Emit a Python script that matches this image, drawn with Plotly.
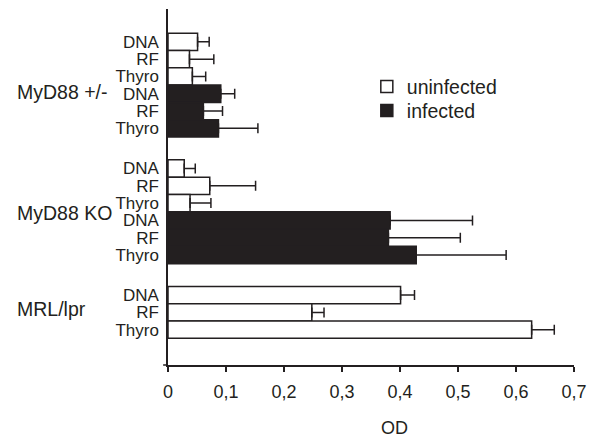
import plotly.graph_objects as go

# ---- data ----
groups = ["MyD88 +/-", "MyD88 KO", "MRL/lpr"]
antigens = ["DNA", "RF", "Thyro"]
tick_vals = [0, 0.1, 0.2, 0.3, 0.4, 0.5, 0.6, 0.7]
tick_text = ["0", "0,1", "0,2", "0,3", "0,4", "0,5", "0,6", "0,7"]

het_uninf = [0.051, 0.037, 0.042]
het_uninf_err = [0.020, 0.042, 0.023]
het_inf = [0.091, 0.061, 0.087]
het_inf_err = [0.024, 0.033, 0.068]
ko_uninf = [0.028, 0.072, 0.038]
ko_uninf_err = [0.019, 0.079, 0.036]
ko_inf = [0.383, 0.380, 0.428]
ko_inf_err = [0.142, 0.124, 0.155]
mrl_uninf = [0.401, 0.248, 0.627]
mrl_uninf_err = [0.024, 0.021, 0.039]

# ---- layout of rows (bar slots of height 1) ----
group_starts = [1.4, 8.72, 16.04]
label_offsets = [3.37, 3.09, 1.28]
y_max = 20.58

def rows(start, offset):
    return [start + offset + i + 0.5 for i in range(3)]

uninf_y = rows(group_starts[0], 0) + rows(group_starts[1], 0) + rows(group_starts[2], 0)
uninf_x = het_uninf + ko_uninf + mrl_uninf
uninf_e = het_uninf_err + ko_uninf_err + mrl_uninf_err
inf_y = rows(group_starts[0], 3) + rows(group_starts[1], 3)
inf_x = het_inf + ko_inf
inf_e = het_inf_err + ko_inf_err

ink = "#231f20"
font_family = "Liberation Sans, Arial, Helvetica, sans-serif"

def errs(e):
    return dict(type="data", array=e, arrayminus=[0] * len(e), symmetric=False,
                color=ink, thickness=1.5, width=5)

fig = go.Figure()
fig.add_trace(go.Bar(name="uninfected", orientation="h", x=uninf_x, y=uninf_y, width=1,
                     marker=dict(color="white", line=dict(color=ink, width=1.5)),
                     error_x=errs(uninf_e), legend="legend"))
fig.add_trace(go.Bar(name="infected", orientation="h", x=inf_x, y=inf_y, width=1,
                     marker=dict(color=ink, line=dict(color=ink, width=1.5)),
                     error_x=errs(inf_e), legend="legend2"))

# row labels
ytick_vals = []
ytick_text = []
for gi, s in enumerate(group_starts):
    n = 6 if gi < 2 else 3
    for i in range(n):
        ytick_vals.append(s + i + 0.5)
        ytick_text.append(antigens[i % 3])

annotations = []
for g, s, o in zip(groups, group_starts, label_offsets):
    annotations.append(dict(text=g, x=-0.377, xref="paper", xanchor="left",
                            y=s + o, yref="y", yanchor="middle", showarrow=False,
                            font=dict(size=19.5, color=ink, family=font_family)))
annotations.append(dict(text="OD", x=0.391, xref="x", xanchor="center",
                        y=-0.177, yref="paper", yanchor="middle", showarrow=False,
                        font=dict(size=18, color=ink, family=font_family)))

# small axis overhangs at the origin
shapes = [
    dict(type="line", xref="paper", yref="paper", x0=-0.012, x1=0, y0=0, y1=0,
         line=dict(color=ink, width=1.5)),
    dict(type="line", xref="paper", yref="paper", x0=0, x1=0, y0=0, y1=-0.014,
         line=dict(color=ink, width=1.5)),
]

legend_common = dict(x=0.4897, xanchor="left", yanchor="top",
                     font=dict(size=19.5, color=ink, family=font_family),
                     bgcolor="rgba(0,0,0,0)", itemclick=False)

fig.update_layout(
    width=590, height=432,
    margin=dict(l=160, r=24, t=1, b=75),
    paper_bgcolor="white", plot_bgcolor="white",
    font=dict(family=font_family, color=ink, size=17),
    barmode="overlay",
    showlegend=True,
    legend=dict(y=0.836, **legend_common),
    legend2=dict(y=0.7685, **legend_common),
    annotations=annotations,
    shapes=shapes,
    xaxis=dict(range=[0, 0.7], tickvals=tick_vals, ticktext=tick_text,
               showline=True, linecolor=ink, linewidth=1.5,
               ticks="outside", ticklen=5, tickwidth=1.5, tickcolor=ink,
               showgrid=False, zeroline=False, tickfont=dict(size=18),
               ticklabelstandoff=5),
    yaxis=dict(range=[y_max, 0], tickvals=ytick_vals, ticktext=ytick_text,
               showline=True, linecolor=ink, linewidth=1.5, ticks="",
               showgrid=False, zeroline=False, tickfont=dict(size=17),
               ticklabelstandoff=4),
)

fig.write_html("out.html")
